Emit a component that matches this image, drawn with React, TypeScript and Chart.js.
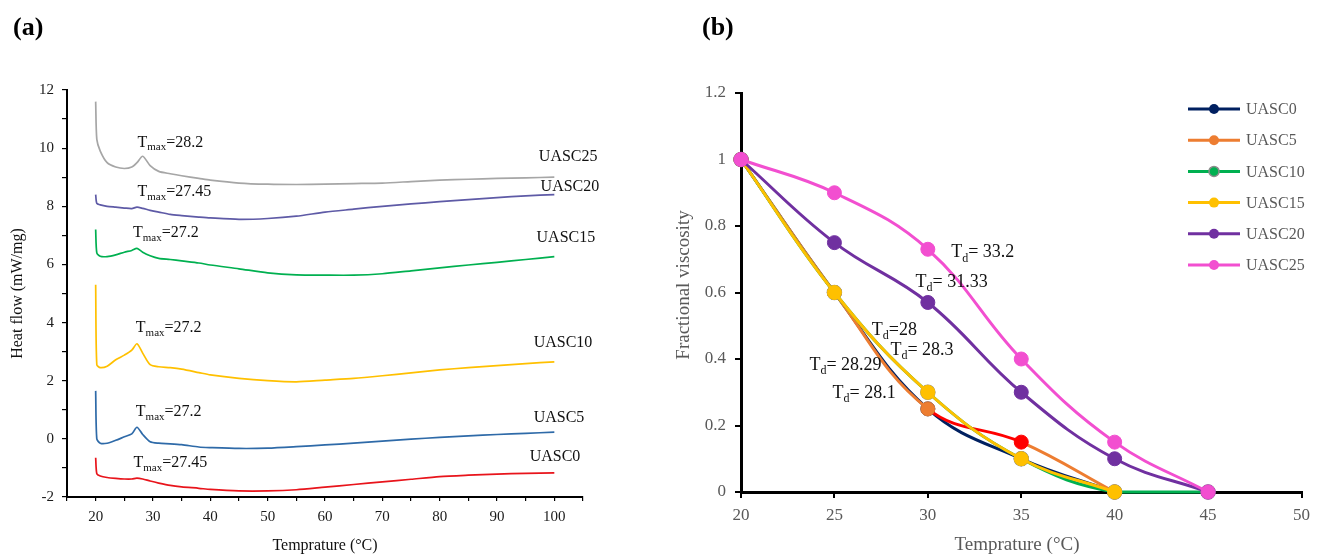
import React, { useEffect, useRef } from 'react';
import { Chart, registerables } from 'chart.js';

Chart.register(...registerables);

const SERIF = '"Liberation Serif", "Times New Roman", serif';

// ---------- Panel (a): DSC heat flow ----------
const dscTemps = [20, 20.2, 20.8, 22, 23.5, 25, 26.3, 27.2, 28.2, 29.5, 31, 33, 35, 38, 40, 45, 50, 55, 60, 65, 70, 75, 80, 85, 90, 95, 100];
const dscUASC0 = [-0.65, -1.2, -1.28, -1.33, -1.36, -1.38, -1.38, -1.35, -1.38, -1.45, -1.52, -1.6, -1.65, -1.7, -1.74, -1.79, -1.79, -1.75, -1.66, -1.57, -1.48, -1.39, -1.3, -1.25, -1.21, -1.19, -1.17];
const dscUASC5 = [1.65, 0.0, -0.15, -0.15, -0.05, 0.07, 0.17, 0.4, 0.15, -0.1, -0.15, -0.17, -0.2, -0.28, -0.3, -0.33, -0.32, -0.27, -0.21, -0.15, -0.08, -0.01, 0.05, 0.1, 0.15, 0.19, 0.23];
const dscUASC10 = [5.3, 2.55, 2.45, 2.5, 2.72, 2.88, 3.05, 3.27, 2.95, 2.55, 2.48, 2.45, 2.4, 2.28, 2.2, 2.08, 2.0, 1.96, 2.02, 2.08, 2.17, 2.27, 2.37, 2.45, 2.52, 2.59, 2.65];
const dscUASC15 = [7.2, 6.4, 6.28, 6.27, 6.33, 6.42, 6.48, 6.55, 6.42, 6.3, 6.21, 6.17, 6.12, 6.05, 5.98, 5.85, 5.71, 5.64, 5.63, 5.63, 5.68, 5.78, 5.88, 5.98, 6.07, 6.17, 6.27];
const dscUASC20 = [8.4, 8.1, 8.05, 8.0, 7.97, 7.94, 7.92, 7.97, 7.93, 7.86, 7.8, 7.72, 7.68, 7.63, 7.6, 7.55, 7.58, 7.66, 7.8, 7.9, 8.0, 8.08, 8.16, 8.23, 8.3, 8.36, 8.4];
const dscUASC25 = [11.6, 10.3, 9.9, 9.5, 9.35, 9.3, 9.35, 9.5, 9.72, 9.4, 9.2, 9.12, 9.05, 8.96, 8.9, 8.8, 8.76, 8.75, 8.76, 8.78, 8.8, 8.85, 8.9, 8.93, 8.96, 8.98, 9.0];
const dscNames = ['UASC0', 'UASC5', 'UASC10', 'UASC15', 'UASC20', 'UASC25'];
const dscTmax = ['=27.45', '=27.2', '=27.2', '=27.2', '=27.45', '=28.2'];
const dscXTicks = [20, 30, 40, 50, 60, 70, 80, 90, 100];
const dscYTicks = [-2, 0, 2, 4, 6, 8, 10, 12];

// ---------- Panel (b): fractional viscosity ----------
const viscTemps = [20, 25, 30, 35, 40, 45];
const viscUASC0 = [1, 0.6, 0.25, 0.1, 0];
const viscUASC5 = [1, 0.6, 0.25, 0.15, 0];
const viscUASC10 = [1, 0.6, 0.3, 0.1, 0, 0];
const viscUASC15 = [1, 0.6, 0.3, 0.1, 0];
const viscUASC20 = [1, 0.75, 0.57, 0.3, 0.1, 0];
const viscUASC25 = [1, 0.9, 0.73, 0.4, 0.15, 0];
const viscNames = ['UASC0', 'UASC5', 'UASC10', 'UASC15', 'UASC20', 'UASC25'];
const tdTexts = ['= 33.2', '= 31.33', '=28', '= 28.3', '= 28.29', '= 28.1'];

// styles / placement (not data)
const dscColors = ['#E8141B', '#2E6AA8', '#FFC000', '#00B050', '#5E5AA6', '#A6A6A6'];
const viscColors = ['#002060', '#ED7D31', '#00B050', '#FFC000', '#7030A0', '#F24FD0'];
const tmaxPlace = [[26.6, -0.83], [27.0, 0.93], [27.0, 3.81], [26.5, 7.08], [27.3, 8.5], [27.3, 10.2]];
const dscLabelPlace = [[95.7, -0.62], [96.4, 0.72], [96.4, 3.3], [96.9, 6.9], [97.6, 8.66], [97.3, 9.7]];
const tdPlace = [[31.25, 0.72], [29.34, 0.63], [27.0, 0.487], [28.0, 0.427], [23.66, 0.382], [24.9, 0.298]];

function drawSubText(ctx: CanvasRenderingContext2D, x: number, y: number, main: string, sub: string, rest: string, size: number, color: string) {
  ctx.save();
  ctx.fillStyle = color;
  ctx.textBaseline = 'middle';
  ctx.textAlign = 'left';
  ctx.font = `${size}px ${SERIF}`;
  ctx.fillText(main, x, y);
  let w = ctx.measureText(main).width;
  const subSize = Math.round(size * 0.68);
  ctx.font = `${subSize}px ${SERIF}`;
  ctx.fillText(sub, x + w, y + size * 0.32);
  w += ctx.measureText(sub).width;
  ctx.font = `${size}px ${SERIF}`;
  ctx.fillText(rest, x + w, y);
  ctx.restore();
}

function LeftChart() {
  const ref = useRef<HTMLCanvasElement | null>(null);
  useEffect(() => {
    if (!ref.current) return;
    const series = [dscUASC0, dscUASC5, dscUASC10, dscUASC15, dscUASC20, dscUASC25];
    const overlay = {
      id: 'leftOverlay',
      afterDraw(chart: any) {
        const ctx = chart.ctx as CanvasRenderingContext2D;
        const xs = chart.scales.x;
        const ys = chart.scales.y;
        series.forEach((_, i) => {
          const [tx, ty] = tmaxPlace[i];
          drawSubText(ctx, xs.getPixelForValue(tx), ys.getPixelForValue(ty), 'T', 'max', dscTmax[i], 16, '#111');
          const [lx, ly] = dscLabelPlace[i];
          ctx.save();
          ctx.fillStyle = '#111';
          ctx.font = `16px ${SERIF}`;
          ctx.textBaseline = 'middle';
          ctx.textAlign = 'left';
          ctx.fillText(dscNames[i], xs.getPixelForValue(lx), ys.getPixelForValue(ly));
          ctx.restore();
        });
        ctx.save();
        ctx.fillStyle = '#111';
        ctx.font = `16px ${SERIF}`;
        ctx.textAlign = 'center';
        ctx.textBaseline = 'middle';
        ctx.fillText('Temprature (°C)', (chart.chartArea.left + chart.chartArea.right) / 2, 546);
        ctx.translate(18, (chart.chartArea.top + chart.chartArea.bottom) / 2);
        ctx.rotate(-Math.PI / 2);
        ctx.fillText('Heat flow (mW/mg)', 0, 0);
        ctx.restore();
        ctx.save();
        ctx.fillStyle = '#000';
        ctx.font = `bold 26px ${SERIF}`;
        ctx.textBaseline = 'middle';
        ctx.textAlign = 'left';
        ctx.fillText('(a)', 13, 28);
        ctx.restore();
      },
    };
    const chart = new Chart(ref.current, {
      type: 'line',
      data: {
        datasets: series.map((vals, i) => ({
          label: dscNames[i],
          data: vals.map((v, j) => ({ x: dscTemps[j], y: v })),
          borderColor: dscColors[i],
          backgroundColor: dscColors[i],
          borderWidth: 1.7,
          pointRadius: 0,
          tension: 0.25,
          fill: false,
        })),
      },
      options: {
        responsive: false,
        animation: false,
        events: [],
        layout: { padding: { left: 0, top: 90, right: 72, bottom: 0 } },
        plugins: { legend: { display: false }, tooltip: { enabled: false } },
        scales: {
          x: {
            type: 'linear',
            min: 15,
            max: 105,
            afterFit: (s: any) => { s.height = 58; },
            afterBuildTicks: (s: any) => {
              const t: any[] = [];
              for (let v = 15; v <= 105; v += 5) t.push({ value: v });
              s.ticks = t;
            },
            ticks: {
              autoSkip: false,
              maxRotation: 0,
              padding: 7,
              color: '#1a1a1a',
              font: { family: SERIF, size: 15 },
              callback: (v: any) => (dscXTicks.includes(Number(v)) ? String(v) : ''),
            },
            grid: { drawOnChartArea: false, drawTicks: true, tickLength: 4, color: '#000', lineWidth: 1.2 },
            border: { display: true, color: '#000', width: 2 },
          },
          y: {
            type: 'linear',
            min: -2,
            max: 12,
            afterFit: (s: any) => { s.width = 67; },
            afterBuildTicks: (s: any) => {
              const t: any[] = [];
              for (let v = -2; v <= 12; v += 1) t.push({ value: v });
              s.ticks = t;
            },
            ticks: {
              autoSkip: false,
              padding: 8,
              color: '#1a1a1a',
              font: { family: SERIF, size: 15 },
              callback: (v: any) => (dscYTicks.includes(Number(v)) ? String(v) : ''),
            },
            grid: { drawOnChartArea: false, drawTicks: true, tickLength: 5, color: '#000', lineWidth: 1.2 },
            border: { display: true, color: '#000', width: 2 },
          },
        },
      } as any,
      plugins: [overlay],
    });
    return () => chart.destroy();
  }, []);
  return <canvas ref={ref} width={655} height={555} style={{ position: 'absolute', left: 0, top: 0 }} />;
}

function RightChart() {
  const ref = useRef<HTMLCanvasElement | null>(null);
  useEffect(() => {
    if (!ref.current) return;
    const series = [viscUASC0, viscUASC5, viscUASC10, viscUASC15, viscUASC20, viscUASC25];
    const overlay = {
      id: 'rightOverlay',
      afterDraw(chart: any) {
        const ctx = chart.ctx as CanvasRenderingContext2D;
        const xs = chart.scales.x;
        const ys = chart.scales.y;
        tdTexts.forEach((t, i) => {
          const [tx, ty] = tdPlace[i];
          drawSubText(ctx, xs.getPixelForValue(tx), ys.getPixelForValue(ty), 'T', 'd', t, 18, '#111');
        });
        // legend
        viscNames.forEach((name, i) => {
          const y = 109 + i * 31.2;
          const x0 = 533;
          ctx.save();
          ctx.strokeStyle = viscColors[i];
          ctx.lineWidth = 3;
          ctx.beginPath();
          ctx.moveTo(x0, y);
          ctx.lineTo(x0 + 52, y);
          ctx.stroke();
          ctx.beginPath();
          ctx.arc(x0 + 26, y, 5, 0, Math.PI * 2);
          ctx.fillStyle = viscColors[i];
          ctx.fill();
          if (i === 2) {
            ctx.lineWidth = 1.5;
            ctx.strokeStyle = '#8c8c8c';
            ctx.stroke();
          }
          ctx.fillStyle = '#595959';
          ctx.font = `16px ${SERIF}`;
          ctx.textBaseline = 'middle';
          ctx.textAlign = 'left';
          ctx.fillText(name, x0 + 58, y + 1);
          ctx.restore();
        });
        ctx.save();
        ctx.fillStyle = '#595959';
        ctx.font = `19px ${SERIF}`;
        ctx.textAlign = 'center';
        ctx.textBaseline = 'middle';
        ctx.fillText('Temprature (°C)', 362, 545);
        ctx.translate(29, 285);
        ctx.rotate(-Math.PI / 2);
        ctx.fillText('Fractional viscosity', 0, 0);
        ctx.restore();
        ctx.save();
        ctx.fillStyle = '#000';
        ctx.font = `bold 26px ${SERIF}`;
        ctx.textBaseline = 'middle';
        ctx.textAlign = 'left';
        ctx.fillText('(b)', 702 - 655, 28);
        ctx.restore();
      },
    };
    const chart = new Chart(ref.current, {
      type: 'line',
      data: {
        datasets: series.map((vals, i) => {
          const isOrange = i === 1;
          return {
            label: viscNames[i],
            data: vals.map((v, j) => ({ x: viscTemps[j], y: v })),
            borderColor: viscColors[i],
            backgroundColor: viscColors[i],
            pointBackgroundColor: isOrange ? vals.map((_, j) => (j === 3 ? '#FF0000' : viscColors[i])) : viscColors[i],
            pointBorderColor: i === 2 ? '#8c8c8c' : (isOrange ? vals.map((_, j) => (j === 3 ? '#FF0000' : viscColors[i])) : viscColors[i]),
            pointBorderWidth: i === 2 ? 1.5 : 1,
            segment: isOrange ? { borderColor: (c: any) => (c.p0DataIndex === 2 ? '#FF0000' : undefined) } : undefined,
            borderWidth: 3,
            pointRadius: 7,
            tension: 0.4,
            fill: false,
            clip: false,
            order: 5 - i,
          };
        }),
      },
      options: {
        responsive: false,
        animation: false,
        events: [],
        layout: { padding: { left: 0, top: 93, right: 11, bottom: 0 } },
        plugins: { legend: { display: false }, tooltip: { enabled: false } },
        scales: {
          x: {
            type: 'linear',
            min: 20,
            max: 50,
            afterFit: (s: any) => { s.height = 63; },
            ticks: {
              stepSize: 5,
              autoSkip: false,
              maxRotation: 0,
              padding: 7,
              color: '#595959',
              font: { family: SERIF, size: 17 },
            },
            grid: { drawOnChartArea: false, drawTicks: true, tickLength: 6, color: '#000', lineWidth: 2 },
            border: { display: true, color: '#000', width: 3 },
          },
          y: {
            type: 'linear',
            min: 0,
            max: 1.2,
            afterFit: (s: any) => { s.width = 86; },
            ticks: {
              stepSize: 0.2,
              autoSkip: false,
              padding: 9,
              color: '#595959',
              font: { family: SERIF, size: 17 },
              callback: (v: any) => String(Number(Number(v).toFixed(1))),
            },
            grid: { drawOnChartArea: false, drawTicks: true, tickLength: 6, color: '#000', lineWidth: 2 },
            border: { display: true, color: '#000', width: 3 },
          },
        },
      } as any,
      plugins: [overlay],
    });
    return () => chart.destroy();
  }, []);
  return <canvas ref={ref} width={662} height={555} style={{ position: 'absolute', left: 655, top: 0 }} />;
}

export default function App() {
  return (
    <div style={{ position: 'absolute', left: 0, top: 0, width: 1317, height: 555, background: '#fff' }}>
      <LeftChart />
      <RightChart />
    </div>
  );
}
